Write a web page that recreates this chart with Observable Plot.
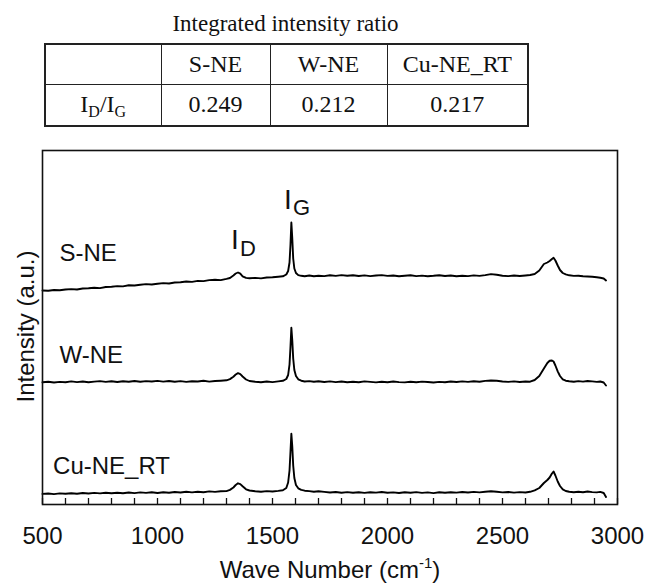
<!DOCTYPE html>
<html>
<head>
<meta charset="utf-8">
<script src="https://cdn.jsdelivr.net/npm/d3@7"></script>
<script src="https://cdn.jsdelivr.net/npm/@observablehq/plot@0.6"></script>
<style>
  html, body { margin: 0; padding: 0; background: #fff; }
  #page { position: relative; width: 649px; height: 585px; overflow: hidden; }
  #ttl { position: absolute; left: 44px; width: 483px; top: 12px; text-align: center;
         font-family: "Liberation Serif", "Times New Roman", serif; font-size: 23px; line-height: 23px; color: #111; }
  #tbl { position: absolute; left: 44px; top: 43px; width: 483px; border-collapse: collapse; table-layout: fixed;
         border: 2px solid #222; font-family: "Liberation Serif", "Times New Roman", serif; font-size: 24px; color: #111; }
  #tbl td { border: 1.5px solid #222; text-align: center; vertical-align: middle; padding: 0; }
  #tbl sub { font-size: 16px; vertical-align: -5px; line-height: 0; }
  #chart { position: absolute; left: 0; top: 140px; }
</style>
</head>
<body>
<div id="page">
  <div id="ttl"></div>
  <table id="tbl"></table>
  <div id="chart"></div>
</div>
<script>
// ---- table data ----
const tableTitle = "Integrated intensity ratio";
const tableSamples = ["S-NE", "W-NE", "Cu-NE_RT"];
const ratioValues = ["0.249", "0.212", "0.217"];

// ---- spectra data ----
const waveNumber = [
  500,525,550,575,600,625,650,675,700,725,750,775,800,825,850,875,900,925,950,975,1000,1025,1050,1075,1100,1125,1150,1175,1200,1225,1250,1275,1300,
  1315,1330,1340,1350,1360,1370,1385,1400,
  1425,1450,1475,1500,1525,1545,
  1560,1568,1574,1578,1582,1586,1590,1595,1602,1612,1625,1640,1660,1680,1700,
  1725,1750,1775,1800,1825,1850,1875,1900,1925,1950,1975,2000,2025,2050,2075,2100,2125,2150,2175,2200,2225,2250,2275,2300,2325,2350,2375,2400,2425,2450,2475,2500,2525,2550,2575,2600,
  2620,2640,2660,2680,2695,2705,2715,2722,2730,2740,2750,2762,2775,2790,2810,2830,2850,2870,2890,2910,2925,2940,2950
];
const intensitySNE = [
  214.0,213.7,214.5,214.2,215.0,215.4,215.0,216.0,216.2,216.8,216.4,217.5,217.7,218.4,218.1,219.2,219.0,219.8,220.4,220.0,220.8,221.4,221.0,222.0,222.2,223.0,222.6,223.6,223.4,224.4,224.8,224.4,225.6,
  226.5,229.0,231.0,232.0,230.8,228.2,226.6,226.2,
  226.6,226.1,227.0,227.2,227.8,228.2,
  230.0,233.5,242,259,282,266,246,236,231.5,229.4,228.7,228.2,229.0,228.3,228.8,
  228.4,229.2,228.6,229.4,228.7,229.3,228.5,229.1,228.4,229.0,229.4,228.6,229.0,228.2,228.8,229.2,228.4,228.9,228.3,228.7,229.3,228.5,229.0,228.2,228.8,228.4,229.1,228.6,229.4,230.4,229.8,228.8,228.4,229.0,228.5,229.0,
  229.5,230.5,234,240.5,242,243.5,245.5,246.7,244,239,234.5,231.5,230.2,229.2,228.6,228.8,228.2,228.0,227.7,227.2,226.8,226.0,224.0
];
const intensityWNE = [
  122.2,122.8,122.0,122.6,122.3,123.1,122.4,123.0,122.2,122.9,123.4,122.6,123.2,122.5,123.3,122.8,123.5,122.7,123.4,123.0,123.6,122.9,123.5,122.8,123.4,122.6,123.3,123.0,123.7,122.9,123.5,123.8,124.2,
  125.4,127.8,130.0,131.4,130.4,128.0,125.0,123.5,
  122.7,122.2,123.0,122.4,123.1,123.7,
  125.5,129.5,140,157,176.7,164,146,134.5,128.5,125.2,123.8,123.0,123.4,122.7,123.2,
  122.5,123.1,122.4,123.0,122.2,122.8,122.3,123.1,122.6,122.1,122.8,122.3,123.0,122.4,122.1,122.7,122.2,122.9,122.5,122.0,122.6,122.2,123.0,122.5,123.1,122.6,123.2,122.8,123.6,124.0,123.7,123.0,122.6,123.1,122.5,123.0,
  122.8,124.5,128.5,136.0,141.5,143.7,144.0,143.0,139.0,133.2,128.5,125.2,123.8,123.2,122.7,123.4,122.9,123.5,123.1,122.6,123.0,122.0,119.0
];
const intensityCuNE = [
  10.6,11.0,10.4,11.1,10.7,11.3,10.8,11.5,11.0,11.6,11.1,11.8,11.2,11.7,11.3,12.0,11.4,12.1,11.6,12.2,11.5,12.3,11.8,12.5,12.0,12.7,12.1,12.8,12.3,13.1,12.6,13.2,13.4,
  14.6,17.0,19.5,21.2,20.4,18.2,15.2,14.0,
  13.2,12.8,13.4,13.0,13.6,14.2,
  16.5,22.0,34,52,70.7,58,39,26.5,19.5,16.2,14.7,13.8,13.4,12.8,13.2,
  12.6,12.0,12.5,11.8,12.4,11.7,12.2,11.6,12.3,11.9,12.5,11.7,12.1,11.5,12.2,11.8,12.4,11.6,12.1,11.4,12.2,11.7,12.3,11.9,12.5,12.0,12.6,12.1,12.8,13.2,12.7,12.1,12.5,11.9,12.4,12.0,
  12.7,14.2,16.5,21.5,24.5,27.0,31.0,33.0,29.0,23.0,18.5,15.2,13.5,12.7,12.2,12.8,12.3,13.0,12.4,12.1,12.6,11.5,7.5
];
const seriesNames = ["S-NE", "W-NE", "Cu-NE_RT"];
const seriesValues = [intensitySNE, intensityWNE, intensityCuNE];

// ---- axis ticks ----
const xTickLabels = [500, 1000, 1500, 2000, 2500, 3000];
const xMinorTicks = [500,600,700,800,900,1000,1100,1200,1300,1400,1500,1600,1700,1800,1900,2000,2100,2200,2300,2400,2500,2600,2700,2800,2900,3000];

// ---- annotations (data coordinates) ----
const seriesLabelAnchors = [
  {text: "S-NE", w: 574, v: 251},
  {text: "W-NE", w: 574, v: 149.5},
  {text: "Cu-NE_RT", w: 546, v: 38.5}
];
const peakLabels = [
  {main: "I", sub: "D", w: 1320, v: 264},
  {main: "I", sub: "G", w: 1550, v: 304.5}
];

// ---- table ----
document.getElementById("ttl").textContent = tableTitle;
const tbl = d3.select("#tbl");
const colW = [116, 109, 117, 141];
const cg = tbl.append("colgroup");
colW.forEach(w => cg.append("col").style("width", w + "px"));
const r1 = tbl.append("tr").style("height", "40px");
r1.append("td");
tableSamples.forEach(s => r1.append("td").text(s));
const r2 = tbl.append("tr").style("height", "42px");
r2.append("td").html("I<sub>D</sub>/I<sub>G</sub>");
ratioValues.forEach(v => r2.append("td").text(v));

// ---- chart ----
const spectra = seriesNames.flatMap((name, i) =>
  waveNumber.map((w, j) => ({name, w, v: seriesValues[i][j]})));

const H = 445;
const plot = Plot.plot({
  width: 649,
  height: H,
  marginLeft: 42,
  marginRight: 32,
  marginTop: 10,
  marginBottom: 81,
  style: {fontFamily: "'Liberation Sans', Arial, sans-serif", color: "#111", background: "#fff"},
  x: {domain: [500, 3000]},
  y: {domain: [0, 354], axis: null},
  marks: [
    Plot.line(spectra, {x: "w", y: "v", z: "name", stroke: "#000", strokeWidth: 1.9, curve: "linear"}),
    Plot.axisX(xMinorTicks, {anchor: "bottom", tickSize: 6, dy: -6, tickFormat: () => "", label: null, stroke: "#111", strokeWidth: 1.3}),
    Plot.axisX(xTickLabels, {anchor: "bottom", tickSize: 0, tickPadding: 22, fontSize: 24, tickFormat: d => String(d), label: null, fill: "#111"}),
    Plot.frame({stroke: "#111", strokeWidth: 1.6}),
    Plot.text(seriesLabelAnchors, {x: "w", y: "v", text: "text", textAnchor: "start", fontSize: 24, fill: "#111"}),
    Plot.text(peakLabels, {x: "w", y: "v", text: "main", textAnchor: "start", fontSize: 28, fill: "#111"}),
    Plot.text(peakLabels, {x: "w", y: "v", text: "sub", textAnchor: "start", fontSize: 22, dx: 9, dy: 8, fill: "#111"})
  ]
});
document.getElementById("chart").appendChild(plot);

// axis titles
const svg = d3.select(plot);
const yl = svg.append("text")
  .attr("transform", "translate(33.5,186.5) rotate(-90)")
  .attr("text-anchor", "middle")
  .attr("font-size", 24)
  .attr("fill", "#111")
  .text("Intensity (a.u.)");
const xl = svg.append("text")
  .attr("x", 330).attr("y", 438)
  .attr("text-anchor", "middle")
  .attr("font-size", 24)
  .attr("fill", "#111");
xl.append("tspan").text("Wave Number (cm");
xl.append("tspan").attr("font-size", 15).attr("dy", -10).text("-1");
xl.append("tspan").attr("dy", 10).text(")");
</script>
</body>
</html>
